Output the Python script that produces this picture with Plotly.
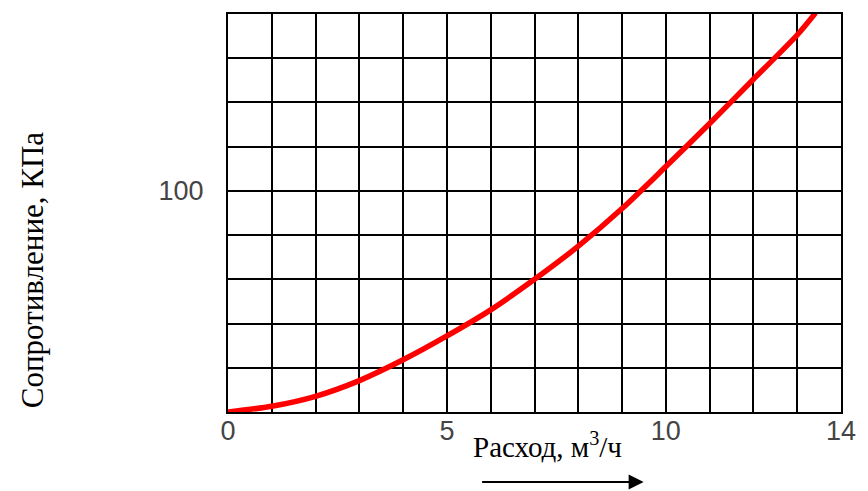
import plotly.graph_objects as go

# Flow rate, m³/h
flow = [0, 1, 2, 3, 4, 5, 6, 7, 8, 9, 10, 11, 12, 13, 13.42]
# Pressure loss, kPa
resistance = [0, 2.6, 7.1, 14.2, 23.6, 34.4, 46.2, 60, 75, 92, 111, 130.5, 150.5, 170.5, 180.5]

x_ticks = list(range(0, 15))
x_labels = ["0", "", "", "", "", "5", "", "", "", "", "10", "", "", "", "14"]
y_ticks = list(range(0, 181, 20))
y_labels = ["", "", "", "", "", "100", "", "", "", ""]

fig = go.Figure()
fig.add_trace(go.Scatter(
    x=flow, y=resistance, mode="lines",
    line=dict(color="#ff0000", width=5.5, shape="spline", smoothing=0.8),
    cliponaxis=False, hoverinfo="skip", showlegend=False,
))

axis_common = dict(
    showgrid=True, gridcolor="#000000", gridwidth=2,
    showline=True, linecolor="#000000", linewidth=2, mirror=True,
    zeroline=False, ticks="",
    tickfont=dict(family="Liberation Sans, Arial, sans-serif", size=27, color="#444444"),
)

fig.update_xaxes(range=[0, 14], tickmode="array", tickvals=x_ticks, ticktext=x_labels,
                 ticklabelstandoff=-6, **axis_common)
fig.update_yaxes(range=[0, 180], tickmode="array", tickvals=y_ticks, ticktext=y_labels,
                 ticklabelstandoff=17, **axis_common)

serif = "Liberation Serif, Times New Roman, serif"
fig.add_annotation(
    text="Сопротивление, КПа", textangle=-90,
    xref="paper", yref="paper", x=-0.32, y=0.356,
    xanchor="center", yanchor="middle", showarrow=False,
    font=dict(family=serif, size=31, color="#000000"),
)
fig.add_annotation(
    text="Расход, м<sup>3</sup>/ч",
    xref="paper", yref="paper", x=0.522, y=-0.084,
    xanchor="center", yanchor="middle", showarrow=False,
    font=dict(family=serif, size=29, color="#000000"),
)
# direction arrow under the flow-rate title
fig.add_annotation(
    text="", xref="paper", yref="paper", x=0.678, y=-0.176,
    ax=-163, ay=0, showarrow=True,
    arrowhead=2, arrowsize=1.5, arrowwidth=2, arrowcolor="#000000",
)

fig.update_layout(
    width=868, height=491,
    margin=dict(l=228, r=17, t=12, b=79),
    paper_bgcolor="#ffffff", plot_bgcolor="#ffffff",
)

fig.write_html("out.html")
